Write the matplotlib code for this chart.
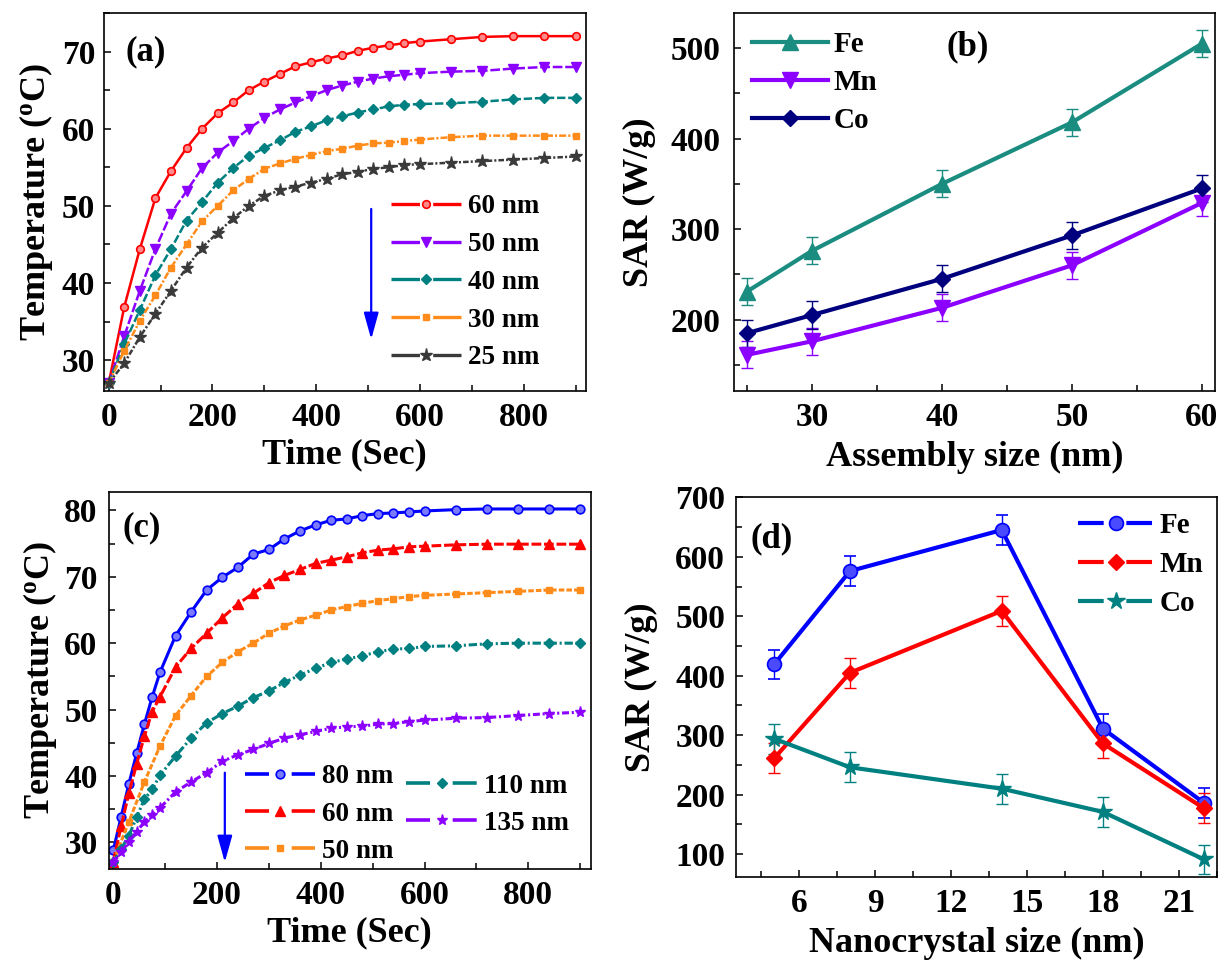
import matplotlib
matplotlib.use('Agg')
import matplotlib.pyplot as plt
from matplotlib.lines import Line2D
from matplotlib.ticker import MultipleLocator

# ---------------- data ----------------
# (a) heating curves vs assembly size
t_a = [0, 30, 60, 90, 120, 150, 180, 210, 240, 270, 300, 330, 360, 390, 420, 450,
       480, 510, 540, 570, 600, 660, 720, 780, 840, 900]
a_60nm = [27.0, 36.9, 44.4, 51.0, 54.5, 57.5, 60.0, 62.0, 63.4, 65.0, 66.1, 67.1, 68.1,
          68.6, 69.1, 69.5, 70.1, 70.5, 70.8, 71.1, 71.3, 71.6, 71.9, 72.0, 72.0, 72.0]
a_50nm = [27.0, 33.1, 39.0, 44.4, 49.0, 51.9, 54.9, 56.9, 58.4, 60.0, 61.4, 62.5, 63.4,
          64.2, 65.0, 65.6, 66.1, 66.5, 66.8, 67.0, 67.2, 67.4, 67.5, 67.8, 68.0, 68.0]
a_40nm = [27.0, 32.1, 36.5, 41.0, 44.4, 48.1, 50.5, 53.0, 54.9, 56.5, 57.5, 58.5, 59.6,
          60.3, 61.1, 61.6, 62.1, 62.5, 62.9, 63.1, 63.2, 63.3, 63.5, 63.8, 64.0, 64.0]
a_30nm = [27.0, 31.2, 35.1, 38.4, 42.0, 45.0, 48.0, 50.0, 52.0, 53.5, 54.8, 55.5, 56.1,
          56.6, 57.1, 57.4, 57.8, 58.1, 58.2, 58.4, 58.6, 58.9, 59.1, 59.1, 59.1, 59.1]
a_25nm = [27.0, 29.6, 33.0, 36.0, 39.0, 42.0, 44.6, 46.5, 48.4, 50.0, 51.3, 52.0, 52.5,
          53.0, 53.5, 54.1, 54.4, 54.8, 55.0, 55.3, 55.4, 55.6, 55.8, 56.0, 56.2, 56.4]
labels_a = ['60 nm', '50 nm', '40 nm', '30 nm', '25 nm']

# (b) SAR vs assembly size
size_b = [25, 30, 40, 50, 60]
sar_b_fe = [231, 276, 350, 418, 505]
sar_b_mn = [161, 176, 213, 260, 329]
sar_b_co = [185, 205, 245, 293, 345]
err_b = [15, 15, 15, 15, 15]
labels_b = ['Fe', 'Mn', 'Co']

# (c) heating curves vs nanocrystal size
t_c = [0, 15, 30, 45, 60, 75, 90, 120, 150, 180, 210, 240, 270, 300, 330, 360, 390,
       420, 450, 480, 510, 540, 570, 600, 660, 720, 780, 840, 900]
t_c50 = [0, 30, 60, 90, 120, 150, 180, 210, 240, 270, 300, 330, 360, 390, 420, 450,
         480, 510, 540, 570, 600, 660, 720, 780, 840, 900]
c_80nm = [28.8, 33.8, 38.8, 43.4, 47.8, 51.9, 55.6, 61.1, 64.7, 68.0, 69.9, 71.4, 73.4,
          74.1, 75.7, 76.9, 77.8, 78.5, 78.7, 79.2, 79.5, 79.6, 79.75, 79.9, 80.1, 80.2,
          80.2, 80.2, 80.2]
c_60nm = [27.1, 32.4, 37.4, 41.8, 46.0, 49.7, 51.9, 56.4, 59.2, 61.5, 63.8, 65.9, 67.5,
          69.1, 70.2, 71.1, 72.0, 72.5, 73.0, 73.6, 74.0, 74.2, 74.5, 74.6, 74.8, 74.9,
          74.9, 74.9, 74.9]
c_50nm = [27.1, 33.1, 39.1, 44.5, 49.1, 52.1, 55.0, 57.1, 58.7, 60.0, 61.5, 62.6, 63.5,
          64.2, 65.0, 65.5, 66.0, 66.4, 66.7, 67.0, 67.2, 67.4, 67.6, 67.8, 68.0, 68.0]
c_110nm = [27.0, 29.0, 31.0, 33.8, 36.5, 38.0, 40.1, 43.0, 45.7, 48.0, 49.4, 50.5, 51.8,
           52.8, 54.1, 55.2, 56.2, 57.1, 57.6, 58.1, 58.7, 59.1, 59.2, 59.5, 59.6, 59.9,
           60.0, 60.0, 60.0]
c_135nm = [27.0, 28.5, 30.1, 31.6, 33.1, 34.2, 35.2, 37.6, 39.1, 40.5, 42.2, 43.2, 44.0,
           44.9, 45.7, 46.2, 46.7, 47.2, 47.4, 47.5, 47.8, 47.9, 48.2, 48.4, 48.7, 48.8,
           49.1, 49.4, 49.6]
labels_c = ['80 nm', '60 nm', '50 nm', '110 nm', '135 nm']

# (d) SAR vs nanocrystal size
size_d = [5, 8, 14, 18, 22]
sar_d_fe = [419, 576, 645, 311, 186]
sar_d_mn = [261, 405, 509, 286, 177]
sar_d_co = [294, 246, 210, 171, 91]
err_d = [25, 25, 25, 25, 25]
labels_d = ['Fe', 'Mn', 'Co']

# ---------------- style ----------------
plt.rcParams.update({
    'font.family': 'Liberation Serif',
    'font.weight': 'bold',
    'axes.labelweight': 'bold',
    'mathtext.fontset': 'custom',
    'mathtext.rm': 'Liberation Serif:bold',
    'mathtext.it': 'Liberation Serif:bold:italic',
    'mathtext.bf': 'Liberation Serif:bold',
    'lines.scale_dashes': False,
    'axes.linewidth': 1.2,
    'xtick.direction': 'in',
    'ytick.direction': 'in',
    'xtick.major.size': 5, 'ytick.major.size': 5,
    'xtick.minor.size': 4, 'ytick.minor.size': 4,
    'xtick.major.width': 1.1, 'ytick.major.width': 1.1,
    'xtick.minor.width': 1.1, 'ytick.minor.width': 1.1,
})

RED = '#ff0000'
PURPLE = '#8b00ff'
TEAL = '#008080'
ORANGE = '#ff8c1a'
DARK = '#3a3a3a'
BLUE = '#0000ff'
NAVY = '#00007f'
TEAL_B = '#1a8c80'

TICK_FS = 24
LABEL_FS = 26
PANEL_FS = 25
LEG_PROP_S = {'family': 'Liberation Serif', 'weight': 'bold', 'size': 19.5}
LEG_PROP_L = {'family': 'Liberation Serif', 'weight': 'bold', 'size': 21}

W, H = 1225, 965
fig = plt.figure(figsize=(W / 100, H / 100), dpi=100)


def ax_px(l, t, r, b):
    return fig.add_axes([l / W, 1 - b / H, (r - l) / W, (b - t) / H])


def style_axes(ax, xmaj, xmin, ymaj, ymin, ypad):
    ax.xaxis.set_major_locator(MultipleLocator(xmaj))
    ax.xaxis.set_minor_locator(MultipleLocator(xmin))
    ax.yaxis.set_major_locator(MultipleLocator(ymaj))
    ax.yaxis.set_minor_locator(MultipleLocator(ymin))
    ax.tick_params(which='both', top=False, right=False, labelsize=TICK_FS)
    ax.tick_params(axis='x', which='major', pad=8)
    ax.tick_params(axis='y', which='major', pad=ypad)
    for lab in ax.get_xticklabels() + ax.get_yticklabels():
        lab.set_fontweight('bold')


def gap_handle(color, lw, on, off, **mk):
    return Line2D([], [], color=color, lw=lw, ls=(0, (on, off, on, 200)),
                  dash_capstyle='butt', **mk)


axA = ax_px(103.5, 13, 586, 391)
axB = ax_px(734, 13, 1215.5, 391)
axC = ax_px(108.6, 491.7, 590.6, 869)
axD = ax_px(736.2, 497.3, 1216.7, 876.7)

# ---------------- (a) ----------------
spec_a = [
    (a_60nm, RED, '-', dict(marker='o', ms=5.5, mfc='#ff8a8a', mec=RED, mew=1.2)),
    (a_50nm, PURPLE, (0, (7, 2)), dict(marker='v', ms=6.5, mfc=PURPLE, mec=PURPLE)),
    (a_40nm, TEAL, (0, (6, 2)), dict(marker='D', ms=4.8, mfc=TEAL, mec=TEAL)),
    (a_30nm, ORANGE, (0, (5, 1.5, 1.5, 1.5)), dict(marker='s', ms=4.8, mfc=ORANGE, mec=ORANGE)),
    (a_25nm, DARK, (0, (4, 1.5, 1.5, 1.5)), dict(marker='*', ms=9.5, mfc=DARK, mec=DARK)),
]
handles_a = []
for y, col, ls, mk in spec_a:
    axA.plot(t_a, y, color=col, lw=1.8, ls=ls, **mk)
    handles_a.append(gap_handle(col, 2.4, 20.5, 9.5, **mk))
axA.set_xlim(-10, 920)
axA.set_ylim(26, 75)
style_axes(axA, 200, 100, 10, 5, 6)
axA.set_xlabel('Time (Sec)', fontsize=LABEL_FS, labelpad=4)
axA.set_ylabel(r'Temperature ($^{\rm o}$C)', fontsize=LABEL_FS, labelpad=5)
axA.text(0.087, 0.898, '(a)', transform=axA.transAxes, fontsize=PANEL_FS,
         fontweight='bold', ha='center', va='center')
axA.legend(handles_a, labels_a, loc='upper left', bbox_to_anchor=(0.595, 0.52),
           frameon=False, borderpad=0, borderaxespad=0, handlelength=2.6,
           handletextpad=0.25, labelspacing=0.47, numpoints=1, prop=LEG_PROP_S)
axA.annotate('', xy=(506, 32.7), xytext=(506, 49.6),
             arrowprops=dict(arrowstyle='-|>,head_length=0.9,head_width=0.25',
                             color=BLUE, lw=1.6, mutation_scale=18, shrinkA=0, shrinkB=0))

# ---------------- (b) ----------------
spec_b = [
    (sar_b_fe, TEAL_B, dict(marker='^', ms=11, mfc=TEAL_B, mec=TEAL_B)),
    (sar_b_mn, PURPLE, dict(marker='v', ms=11, mfc=PURPLE, mec=PURPLE)),
    (sar_b_co, NAVY, dict(marker='D', ms=8.5, mfc=NAVY, mec=NAVY)),
]
handles_b = []
for y, col, mk in spec_b:
    axB.errorbar(size_b, y, yerr=err_b, color=col, lw=3, elinewidth=1, ecolor=col,
                 capsize=4, capthick=1, **mk)
    handles_b.append(Line2D([], [], color=col, lw=3, **mk))
axB.set_xlim(24, 61.05)
axB.set_ylim(121, 539)
style_axes(axB, 10, 5, 100, 50, 10)
axB.set_xlabel('Assembly size (nm)', fontsize=LABEL_FS, labelpad=6)
axB.set_ylabel('SAR (W/g)', fontsize=LABEL_FS, labelpad=10)
axB.text(0.485, 0.911, '(b)', transform=axB.transAxes, fontsize=PANEL_FS,
         fontweight='bold', ha='center', va='center')
axB.legend(handles_b, labels_b, loc='upper left', bbox_to_anchor=(0.037, 0.952),
           frameon=False, borderpad=0, borderaxespad=0, handlelength=2.6,
           handletextpad=0.2, labelspacing=0.38, numpoints=1, prop=LEG_PROP_L)

# ---------------- (c) ----------------
spec_c = [
    (t_c, c_80nm, BLUE, '-', dict(marker='o', ms=6.2, mfc='#7a7aff', mec=BLUE, mew=1.2)),
    (t_c, c_60nm, RED, (0, (7, 2)), dict(marker='^', ms=6.5, mfc=RED, mec=RED)),
    (t_c50, c_50nm, ORANGE, (0, (4, 1.5)), dict(marker='s', ms=5, mfc=ORANGE, mec=ORANGE)),
    (t_c, c_110nm, TEAL, (0, (6, 2, 1.5, 2)), dict(marker='D', ms=5, mfc=TEAL, mec=TEAL)),
    (t_c, c_135nm, PURPLE, (0, (5, 2, 1.5, 2)), dict(marker='*', ms=8, mfc=PURPLE, mec=PURPLE)),
]
handles_c = []
for t, y, col, ls, mk in spec_c:
    axC.plot(t, y, color=col, lw=2.2, ls=ls, **mk)
    handles_c.append(gap_handle(col, 2.6, 17.3, 16.3, **mk))
axC.set_xlim(-9, 920)
axC.set_ylim(26, 82.8)
style_axes(axC, 200, 100, 10, 5, 8)
axC.set_xlabel('Time (Sec)', fontsize=LABEL_FS, labelpad=4)
axC.set_ylabel(r'Temperature ($^{\rm o}$C)', fontsize=LABEL_FS, labelpad=4)
axC.text(0.068, 0.903, '(c)', transform=axC.transAxes, fontsize=PANEL_FS,
         fontweight='bold', ha='center', va='center')
legc1 = axC.legend(handles_c[:3], labels_c[:3], loc='upper left',
                   bbox_to_anchor=(0.283, 0.277), frameon=False, borderpad=0,
                   borderaxespad=0, handlelength=2.6, handletextpad=0.25,
                   labelspacing=0.45, numpoints=1, prop=LEG_PROP_S)
axC.add_artist(legc1)
axC.legend(handles_c[3:], labels_c[3:], loc='upper left',
           bbox_to_anchor=(0.618, 0.253), frameon=False, borderpad=0,
           borderaxespad=0, handlelength=2.6, handletextpad=0.25,
           labelspacing=0.45, numpoints=1, prop=LEG_PROP_S)
axC.annotate('', xy=(215, 27.0), xytext=(215, 40.5),
             arrowprops=dict(arrowstyle='-|>,head_length=0.9,head_width=0.25',
                             color=BLUE, lw=1.6, mutation_scale=18, shrinkA=0, shrinkB=0))

# ---------------- (d) ----------------
spec_d = [
    (sar_d_fe, BLUE, dict(marker='o', ms=10, mfc='#4a4aff', mec=BLUE, mew=1.2)),
    (sar_d_mn, RED, dict(marker='D', ms=8, mfc=RED, mec=RED)),
    (sar_d_co, TEAL, dict(marker='*', ms=13, mfc=TEAL, mec=TEAL)),
]
handles_d = []
for y, col, mk in spec_d:
    axD.errorbar(size_d, y, yerr=err_d, color=col, lw=3, elinewidth=1, ecolor=col,
                 capsize=4, capthick=1, **mk)
    handles_d.append(gap_handle(col, 3, 18.5, 16.3, **mk))
axD.set_xlim(3.5, 22.5)
axD.set_ylim(62, 700)
style_axes(axD, 3, 1.5, 100, 50, 8)
axD.set_xlabel('Nanocrystal size (nm)', fontsize=LABEL_FS, labelpad=6)
axD.set_ylabel('SAR (W/g)', fontsize=LABEL_FS, labelpad=12)
axD.text(0.074, 0.89, '(d)', transform=axD.transAxes, fontsize=PANEL_FS,
         fontweight='bold', ha='center', va='center')
axD.legend(handles_d, labels_d, loc='upper left', bbox_to_anchor=(0.712, 0.962),
           frameon=False, borderpad=0, borderaxespad=0, handlelength=2.55,
           handletextpad=0.25, labelspacing=0.42, numpoints=1, prop=LEG_PROP_L)

fig.savefig('out.png', dpi=100)
